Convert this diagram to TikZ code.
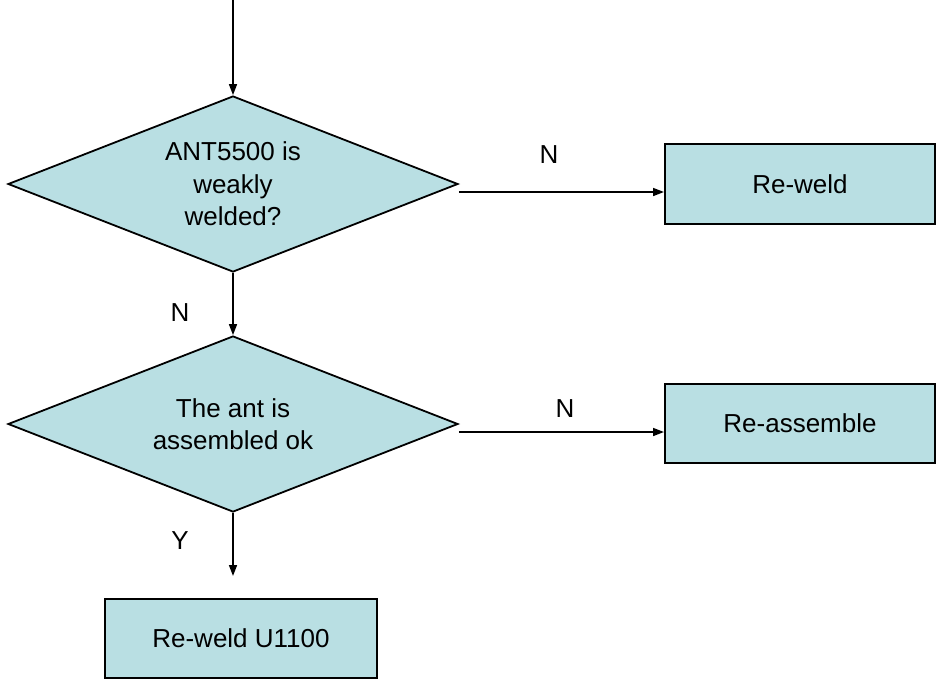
\documentclass[tikz,border=0pt]{standalone}
\usepackage{fontspec}
\setmainfont{Liberation Sans}
\usetikzlibrary{shapes.geometric,arrows.meta}
\definecolor{boxfill}{RGB}{185,223,227}
\tikzset{
  decision/.style={diamond, draw=black, fill=boxfill, line width=1.8pt, inner sep=0pt,
    shape aspect=2.56, minimum width=450pt, minimum height=176pt, align=center,
    font=\fontsize{26}{32.5}\selectfont},
  actbox/.style={rectangle, draw=black, fill=boxfill, line width=2pt, inner sep=0pt,
    minimum width=270pt, minimum height=80pt, align=center,
    font=\fontsize{26}{30}\selectfont},
  arr/.style={line width=1.6pt, -{Triangle[length=11pt,width=8pt]}},
  lbl/.style={font=\fontsize{26}{30}\selectfont, inner sep=0pt}
}
\begin{document}
\begin{tikzpicture}[x=1pt,y=-1pt]
\useasboundingbox (0,0) rectangle (937,681);
\coordinate (start) at (233,0);
\node[decision] (d1) at (233,184) {ANT5500 is\\weakly\\welded?};
\node[decision] (d2) at (233,424) {The ant is\\assembled ok};
\node[actbox] (r1) at (800,184) {Re-weld};
\node[actbox, minimum height=79pt] (r2) at (800,423.5) {Re-assemble};
\node[actbox, minimum width=272pt, minimum height=79pt] (r3) at (241,638.5) {Re-weld U1100};
\coordinate (yend) at (233,576);
\draw[arr] (start) -- (d1.north);
\draw[arr] ([yshift=-8pt]d1.east) -- ([yshift=-8pt]d1.east -| r1.west);
\draw[arr] (d1.south) -- (d2.north);
\draw[arr] ([yshift=-8pt]d2.east) -- ([yshift=-8pt]d2.east -| r2.west);
\draw[arr] (d2.south) -- (yend);
\node[lbl] (n1) at (549,155) {N};
\node[lbl] (n2) at (180,313) {N};
\node[lbl] (n3) at (565,409) {N};
\node[lbl] (y1) at (180,541) {Y};
\end{tikzpicture}
\end{document}
